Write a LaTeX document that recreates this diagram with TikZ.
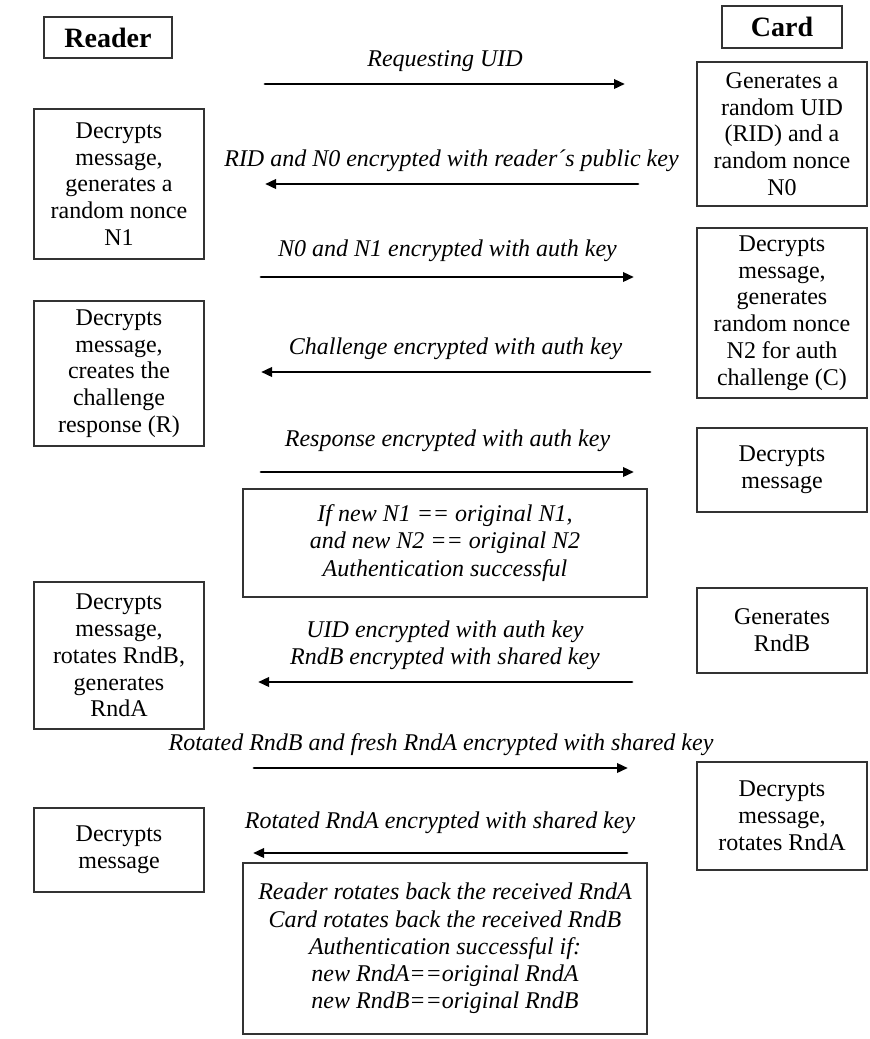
\documentclass[tikz,border=0pt]{standalone}
\usepackage{fontspec}
\setmainfont{Liberation Serif}
\usetikzlibrary{arrows.meta}

\tikzset{
  box/.style={draw=black!80, line width=0.6pt, align=center, inner sep=2pt,
    font=\fontsize{12}{13.4}\selectfont},
  head/.style={box, font=\fontsize{14}{16}\selectfont\bfseries},
  note/.style={box, font=\fontsize{12}{13.6}\selectfont\itshape},
  msg/.style={line width=1.4pt, -{Triangle[length=5.5pt,width=4.6pt]}},
  lbl/.style={above=2pt, align=center, font=\fontsize{12}{13.6}\selectfont\itshape},
}

\begin{document}
\begin{tikzpicture}[x=0.5pt,y=-0.5pt,line cap=round]
        \useasboundingbox (0,0) rectangle (870,1039);

        % column heads
        \node[head, minimum width=64pt, minimum height=20.5pt] (reader) at (108,37.5) {Reader};
        \node[head, minimum width=60pt, minimum height=21pt] (card) at (782,27) {Card};

        % reader side
        \node[box, minimum width=85pt, minimum height=75pt] (rd1) at (119,184) {Decrypts\\message,\\generates a\\random nonce\\N1};
        \node[box, minimum width=85pt, minimum height=72.5pt] (rd2) at (119,373.5) {Decrypts\\message,\\creates the\\challenge\\response (R)};
        \node[box, minimum width=85pt, minimum height=73.5pt] (rd3) at (119,655.5) {Decrypts\\message,\\rotates RndB,\\generates\\RndA};
        \node[box, minimum width=85pt, minimum height=42pt] (rd4) at (119,850) {Decrypts\\message};

        % card side
        \node[box, minimum width=85pt, minimum height=72pt] (cd1) at (782,134) {Generates a\\random UID\\(RID) and a\\random nonce\\N0};
        \node[box, minimum width=85pt, minimum height=85pt] (cd2) at (782,313) {Decrypts\\message,\\generates\\random nonce\\N2 for auth\\challenge (C)};
        \node[box, minimum width=85pt, minimum height=42pt] (cd3) at (782,470) {Decrypts\\message};
        \node[box, minimum width=85pt, minimum height=42.5pt] (cd4) at (782,630.5) {Generates\\RndB};
        \node[box, minimum width=85pt, minimum height=54pt] (cd5) at (782,816) {Decrypts\\message,\\rotates RndA};

        % checks in the middle
        \node[note, minimum width=202pt, minimum height=54pt] (chk1) at (445,543) {If new N1 == original N1,\\and new N2 == original N2\\Authentication successful};
        \node[note, minimum width=202pt, minimum height=85.5pt] (chk2) at (445,948.5) {Reader rotates back the received RndA\\Card rotates back the received RndB\\Authentication successful if:\\new RndA==original RndA\\new RndB==original RndB};

        % message ends
        \foreach \i/\y/\xa/\xb in {1/84/265/625, 2/184/638/265, 3/277/261/634, 4/372/650/261,
                                  5/472/261/634, 6/682/632/258, 7/768/254/628, 8/853/627/253}{
            \coordinate (s\i) at (\xa,\y);
            \coordinate (e\i) at (\xb,\y);
        }

        \draw[msg] (s1) -- node[lbl] {Requesting UID} (e1);
        \draw[msg] (s2) -- node[lbl] {RID and N0 encrypted with reader´s public key} (e2);
        \draw[msg] (s3) -- node[lbl, yshift=1.5pt] {N0 and N1 encrypted with auth key} (e3);
        \draw[msg] (s4) -- node[lbl] {Challenge encrypted with auth key} (e4);
        \draw[msg] (s5) -- node[lbl, yshift=4pt] {Response encrypted with auth key} (e5);
        \draw[msg] (s6) -- node[lbl] {UID encrypted with auth key\\RndB encrypted with shared key} (e6);
        \draw[msg] (s7) -- node[lbl] {Rotated RndB and fresh RndA encrypted with shared key} (e7);
        \draw[msg] (s8) -- node[lbl, yshift=3.5pt] {Rotated RndA encrypted with shared key} (e8);
    \end{tikzpicture}
\end{document}
